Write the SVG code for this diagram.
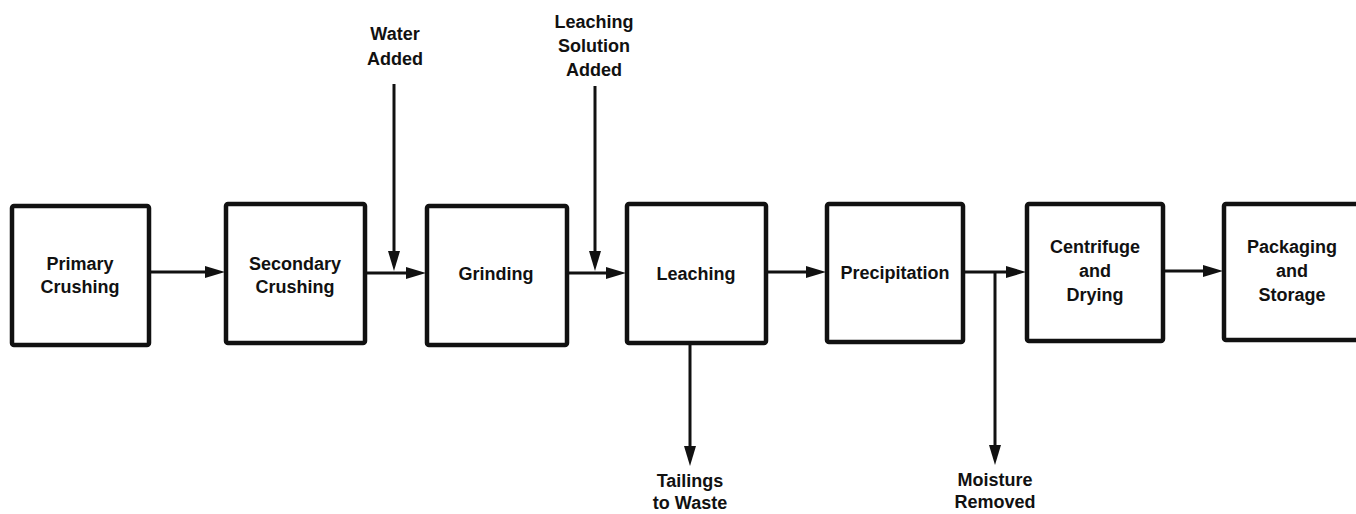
<svg xmlns="http://www.w3.org/2000/svg" width="1356" height="514" viewBox="0 0 1356 514">
<style>
.box{fill:#fff;stroke:#111;stroke-width:4.5}
.t{font-family:"Liberation Sans",Arial,sans-serif;font-weight:bold;font-size:18px;fill:#111;text-anchor:middle}
.c{stroke:#111;stroke-width:3;fill:none;marker-end:url(#ah)}
</style>
<defs>
<marker id="ah" markerUnits="userSpaceOnUse" markerWidth="22" markerHeight="14" refX="12" refY="6" orient="auto">
<path d="M0,0 L20,6 L0,12 Z" fill="#111"/>
</marker>
</defs>
<rect width="1356" height="514" fill="#fff"/>
<g id="connectors">
<line class="c" x1="151" y1="272" x2="217" y2="272"/>
<line class="c" x1="367" y1="273" x2="418" y2="273"/>
<line class="c" x1="394" y1="84" x2="394" y2="263"/>
<line class="c" x1="569" y1="273" x2="618" y2="273"/>
<line class="c" x1="595" y1="86" x2="595" y2="263"/>
<line class="c" x1="768" y1="272" x2="818" y2="272"/>
<line class="c" x1="965" y1="272" x2="1018" y2="272"/>
<line class="c" x1="995" y1="272" x2="995" y2="457"/>
<line class="c" x1="1165" y1="271" x2="1215" y2="271"/>
<line class="c" x1="690" y1="345" x2="690" y2="458"/>
</g>
<g id="primary-crushing">
<rect class="box" x="12" y="206" width="137" height="139" rx="2"/>
<text class="t" x="80" y="270">Primary</text>
<text class="t" x="80" y="293">Crushing</text>
</g>
<g id="secondary-crushing">
<rect class="box" x="226" y="204" width="139" height="139" rx="2"/>
<text class="t" x="295" y="270">Secondary</text>
<text class="t" x="295" y="293">Crushing</text>
</g>
<g id="grinding">
<rect class="box" x="427" y="206" width="140" height="139" rx="2"/>
<text class="t" x="496" y="280">Grinding</text>
</g>
<g id="leaching">
<rect class="box" x="627" y="204" width="139" height="139" rx="2"/>
<text class="t" x="696" y="280">Leaching</text>
</g>
<g id="precipitation">
<rect class="box" x="827" y="204" width="136" height="138" rx="2"/>
<text class="t" x="895" y="279">Precipitation</text>
</g>
<g id="centrifuge-drying">
<rect class="box" x="1027" y="204" width="136" height="137" rx="2"/>
<text class="t" x="1095" y="253">Centrifuge</text>
<text class="t" x="1095" y="277">and</text>
<text class="t" x="1095" y="301">Drying</text>
</g>
<g id="packaging-storage">
<rect class="box" x="1224" y="204" width="140" height="136" rx="2"/>
<text class="t" x="1292" y="253">Packaging</text>
<text class="t" x="1292" y="277">and</text>
<text class="t" x="1292" y="301">Storage</text>
</g>
<g id="water-added">
<text class="t" x="395" y="40">Water</text>
<text class="t" x="395" y="65">Added</text>
</g>
<g id="leaching-solution-added">
<text class="t" x="594" y="28">Leaching</text>
<text class="t" x="594" y="52">Solution</text>
<text class="t" x="594" y="76">Added</text>
</g>
<g id="tailings-to-waste">
<text class="t" x="690" y="487">Tailings</text>
<text class="t" x="690" y="509">to Waste</text>
</g>
<g id="moisture-removed">
<text class="t" x="995" y="486">Moisture</text>
<text class="t" x="995" y="508">Removed</text>
</g>
</svg>
